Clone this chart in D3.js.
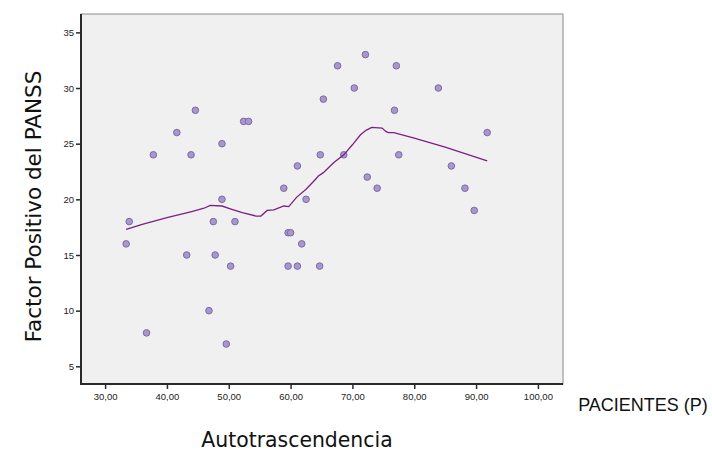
<!DOCTYPE html>
<html>
<head>
<meta charset="utf-8">
<script src="https://cdn.jsdelivr.net/npm/d3@7"></script>
<style>
  html, body { margin: 0; padding: 0; background: #ffffff; }
  svg { display: block; }
</style>
</head>
<body>
<svg id="chart" width="712" height="453"></svg>
<script>
// Autotrascendencia (x) vs. Factor Positivo del PANSS (y), one point per patient
const autotrascendencia = [
  33.4, 33.9, 36.7, 37.8, 41.6, 43.2, 43.9, 44.6, 46.8, 47.5, 47.8,
  48.9, 48.9, 49.6, 50.3, 51.0, 52.4, 53.2, 58.9, 59.6, 60.0, 59.6,
  61.1, 61.1, 61.8, 62.5, 64.7, 64.8, 65.3, 67.6, 68.6, 70.3, 72.1,
  72.4, 74.0, 76.8, 77.1, 77.5, 83.9, 86.0, 88.2, 89.7, 91.8
];
const factorPositivo = [
  16, 18, 8, 24, 26, 15, 24, 28, 10, 18, 15,
  25, 20, 7, 14, 18, 27, 27, 21, 17, 17, 14,
  23, 14, 16, 20, 14, 24, 29, 32, 24, 30, 33,
  22, 21, 28, 32, 24, 30, 23, 21, 19, 26
];

// Smoothed (loess) fit line
const fitX = [33.4, 36, 40, 44, 46, 47.0, 48.9, 50.5, 52.2, 54.4, 55.2, 56.2, 57.3,
  58.9, 59.7, 61.0, 62.5, 63.7, 64.5, 65.3, 67, 68.6, 70, 71.3, 72.2, 73.1,
  74.8, 75.4, 75.8, 76.7, 80, 85, 91.8];
const fitY = [17.3, 17.75, 18.35, 18.9, 19.2, 19.45, 19.4, 19.1, 18.8, 18.5, 18.5, 19.0, 19.05,
  19.4, 19.35, 20.2, 20.9, 21.6, 22.1, 22.4, 23.3, 24.0, 24.9, 25.8, 26.2, 26.47,
  26.4, 26.1, 26.0, 26.0, 25.5, 24.7, 23.45];

const xTicks = [30, 40, 50, 60, 70, 80, 90, 100];
const yTicks = [5, 10, 15, 20, 25, 30, 35];

const xTitle = "Autotrascendencia";
const yTitle = "Factor Positivo del PANSS";
const groupLabel = "PACIENTES (P)";

const svg = d3.select("#chart");
const plot = { left: 81, top: 14, right: 563, bottom: 384 };

const x = d3.scaleLinear().domain([26.1, 104.06]).range([plot.left, plot.right]);
const y = d3.scaleLinear().domain([3.41, 36.65]).range([plot.bottom, plot.top]);

const fmt = d => d.toFixed(2).replace(".", ",");

// plot background and frame
svg.append("rect")
  .attr("x", plot.left).attr("y", plot.top)
  .attr("width", plot.right - plot.left).attr("height", plot.bottom - plot.top)
  .attr("fill", "#f0f0f0")
  .attr("stroke", "#8a8a8a").attr("stroke-width", 1);

// axes
const xAxis = d3.axisBottom(x).tickValues(xTicks).tickFormat(fmt).tickSizeOuter(0).tickSize(5).tickPadding(4);
const yAxis = d3.axisLeft(y).tickValues(yTicks).tickFormat(d3.format("d")).tickSizeOuter(0).tickSize(5).tickPadding(2);

const gx = svg.append("g").attr("transform", `translate(0,${plot.bottom})`).call(xAxis);
const gy = svg.append("g").attr("transform", `translate(${plot.left},0)`).call(yAxis);

[gx, gy].forEach(g => {
  g.select(".domain").attr("stroke", "#2a2a2a").attr("stroke-width", 2);
  g.selectAll(".tick line").attr("stroke", "#2a2a2a").attr("stroke-width", 1.5);
  g.selectAll(".tick text")
    .attr("fill", "#222")
    .style("font-family", "'Liberation Sans', Arial, sans-serif")
    .style("font-size", "9.5px");
});
gy.select(".domain").attr("d", `M0,${plot.top}V${plot.bottom + 1}`);
gx.select(".domain").attr("d", `M${plot.left - 1},0H${plot.right}`);

// points
svg.append("g")
  .selectAll("circle")
  .data(autotrascendencia.map((v, i) => [v, factorPositivo[i]]))
  .join("circle")
  .attr("cx", d => x(d[0]))
  .attr("cy", d => y(d[1]))
  .attr("r", 3.3)
  .attr("fill", "#a897cb")
  .attr("stroke", "#7c6aa9")
  .attr("stroke-width", 1);

// fit line
const line = d3.line().x(d => x(d[0])).y(d => y(d[1]));
svg.append("path")
  .datum(fitX.map((v, i) => [v, fitY[i]]))
  .attr("d", line)
  .attr("fill", "none")
  .attr("stroke", "#7d1f80")
  .attr("stroke-width", 1.3);

// titles
svg.append("text")
  .attr("x", 297).attr("y", 447)
  .attr("text-anchor", "middle")
  .style("font-family", "'DejaVu Sans', Verdana, sans-serif")
  .style("font-size", "20.4px")
  .attr("fill", "#111")
  .text(xTitle);

svg.append("text")
  .attr("transform", "translate(41,206.5) rotate(-90)")
  .attr("text-anchor", "middle")
  .style("font-family", "'DejaVu Sans', Verdana, sans-serif")
  .style("font-size", "21.5px")
  .attr("fill", "#111")
  .text(yTitle);

svg.append("text")
  .attr("x", 643).attr("y", 411)
  .attr("text-anchor", "middle")
  .style("font-family", "'Liberation Sans', Arial, sans-serif")
  .style("font-size", "18px")
  .attr("fill", "#111")
  .text(groupLabel);
</script>
</body>
</html>
